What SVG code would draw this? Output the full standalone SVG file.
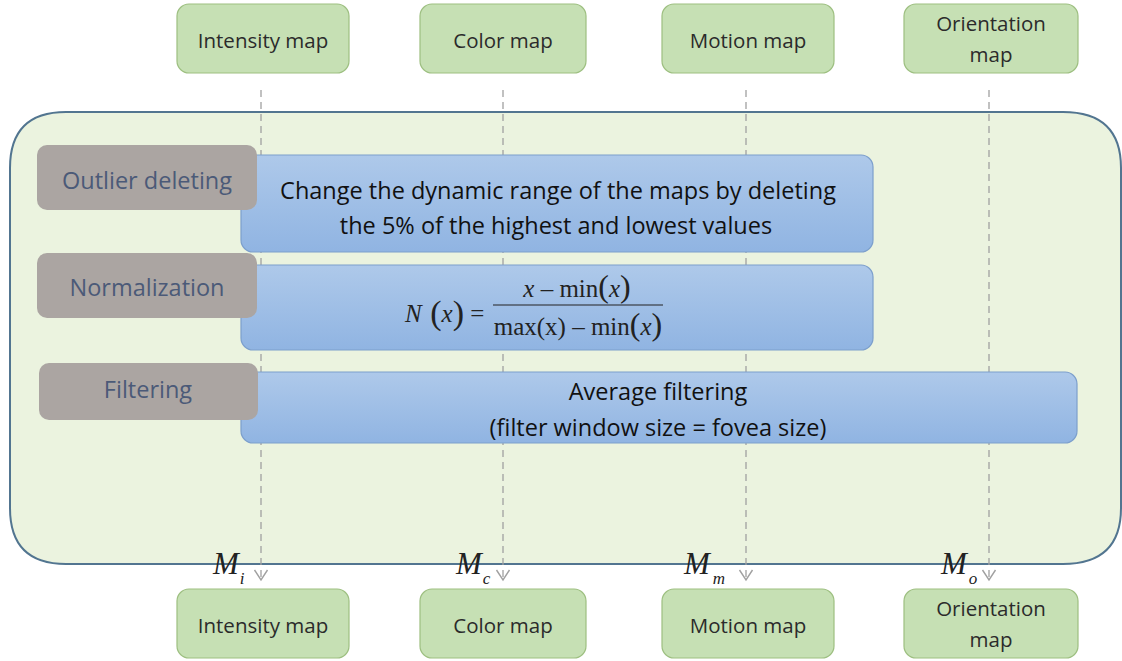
<svg xmlns="http://www.w3.org/2000/svg" width="1122" height="661" viewBox="0 0 1122 661">
<style>
.map{fill:#c6e0b4;stroke:#9dbf80;stroke-width:1.2}
.mt{font-family:"Open Sans","Liberation Sans",sans-serif;font-size:20.5px;fill:#2b2b2b;text-anchor:middle}
.grey{fill:#aba5a2}
.gt{font-family:"Open Sans","Liberation Sans",sans-serif;font-size:23.5px;fill:#4b5a78;text-anchor:middle}
.blue{fill:url(#bg);stroke:#7c9fcc;stroke-width:1.2}
.bt{font-family:"Open Sans","Liberation Sans",sans-serif;font-size:23.5px;fill:#111;text-anchor:middle}
.math{font-family:"Liberation Serif",serif;font-size:25px;fill:#222}
.conn{stroke:#a0a0a0;stroke-width:1.3;stroke-dasharray:7,5;fill:none}
.ml{font-family:"Liberation Serif",serif;font-style:italic;fill:#222}
</style>
<defs>
<linearGradient id="bg" x1="0" y1="0" x2="0" y2="1">
<stop offset="0" stop-color="#aec9ea"/>
<stop offset="1" stop-color="#90b4e2"/>
</linearGradient>
<marker id="arr" markerWidth="14" markerHeight="16" refX="11" refY="8" orient="auto" markerUnits="userSpaceOnUse">
<path d="M1,1.5 L11,8 L1,14.5" fill="none" stroke="#a0a0a0" stroke-width="1.4"/>
</marker>
</defs>
<g id="container">
<path d="M66,112 H1063 Q1121,112 1121,168 V508 Q1121,564 1063,564 H66 Q10,564 10,508 V168 Q10,112 66,112 Z" fill="#ebf3df" stroke="#527590" stroke-width="2"/>
</g>
<g id="connectors">
<line class="conn" x1="261" y1="90" x2="261" y2="580" marker-end="url(#arr)"/>
<line class="conn" x1="503" y1="90" x2="503" y2="580" marker-end="url(#arr)"/>
<line class="conn" x1="746" y1="90" x2="746" y2="580" marker-end="url(#arr)"/>
<line class="conn" x1="989" y1="90" x2="989" y2="580" marker-end="url(#arr)"/>
</g>
<g id="outlier-step">
<rect class="blue" x="241" y="155" width="632" height="97" rx="12"/>
<rect class="grey" x="37" y="145" width="220" height="65" rx="10"/>
<text class="gt" x="147" y="189">Outlier deleting</text>
<text class="bt" x="558" y="199">Change the dynamic range of the maps by deleting</text>
<text class="bt" x="556" y="234">the 5% of the highest and lowest values</text>
</g>
<g id="normalization-step">
<rect class="blue" x="241" y="265" width="632" height="85" rx="12"/>
<rect class="grey" x="37" y="253" width="220" height="65" rx="10"/>
<text class="gt" x="147" y="296">Normalization</text>
<text class="math" x="405" y="322"><tspan font-style="italic">N</tspan><tspan font-size="34" dy="2"> (</tspan><tspan font-style="italic" dy="-2">x</tspan><tspan font-size="34" dy="2">)</tspan><tspan dy="-2"> =</tspan></text>
<text class="math" x="577" y="297" text-anchor="middle"><tspan font-style="italic">x</tspan> – min<tspan font-size="32">(</tspan><tspan font-style="italic">x</tspan><tspan font-size="32">)</tspan></text>
<line x1="493" y1="305" x2="663" y2="305" stroke="#222" stroke-width="1.2"/>
<text class="math" x="578" y="335" text-anchor="middle">max(x) – min<tspan font-size="32">(</tspan><tspan font-style="italic">x</tspan><tspan font-size="32">)</tspan></text>
</g>
<g id="filtering-step">
<rect class="blue" x="241" y="372" width="836" height="71" rx="12"/>
<rect class="grey" x="39" y="363" width="219" height="57" rx="10"/>
<text class="gt" x="148" y="398">Filtering</text>
<text class="bt" x="658" y="400">Average filtering</text>
<text class="bt" x="658" y="436">(filter window size = fovea size)</text>
</g>
<g id="in-intensity"><rect class="map" x="177" y="4" width="172" height="69" rx="12"/><text class="mt" x="263" y="48">Intensity map</text></g>
<g id="in-color"><rect class="map" x="420" y="4" width="166" height="69" rx="12"/><text class="mt" x="503" y="48">Color map</text></g>
<g id="in-motion"><rect class="map" x="662" y="4" width="172" height="69" rx="12"/><text class="mt" x="748" y="48">Motion map</text></g>
<g id="in-orientation"><rect class="map" x="904" y="4" width="174" height="69" rx="12"/><text class="mt" x="991" y="31">Orientation</text><text class="mt" x="991" y="62">map</text></g>
<g id="out-intensity"><rect class="map" x="177" y="589" width="172" height="69" rx="12"/><text class="mt" x="263" y="633">Intensity map</text></g>
<g id="out-color"><rect class="map" x="420" y="589" width="166" height="69" rx="12"/><text class="mt" x="503" y="633">Color map</text></g>
<g id="out-motion"><rect class="map" x="662" y="589" width="172" height="69" rx="12"/><text class="mt" x="748" y="633">Motion map</text></g>
<g id="out-orientation"><rect class="map" x="904" y="589" width="174" height="69" rx="12"/><text class="mt" x="991" y="616">Orientation</text><text class="mt" x="991" y="647">map</text></g>
<g id="labels">
<text class="ml" x="213" y="574" font-size="31">M<tspan font-size="17" dy="10" dx="1">i</tspan></text>
<text class="ml" x="456" y="574" font-size="31">M<tspan font-size="17" dy="10" dx="1">c</tspan></text>
<text class="ml" x="684" y="574" font-size="31">M<tspan font-size="17" dy="10" dx="3">m</tspan></text>
<text class="ml" x="941" y="574" font-size="31">M<tspan font-size="17" dy="10" dx="2">o</tspan></text>
</g>
</svg>
